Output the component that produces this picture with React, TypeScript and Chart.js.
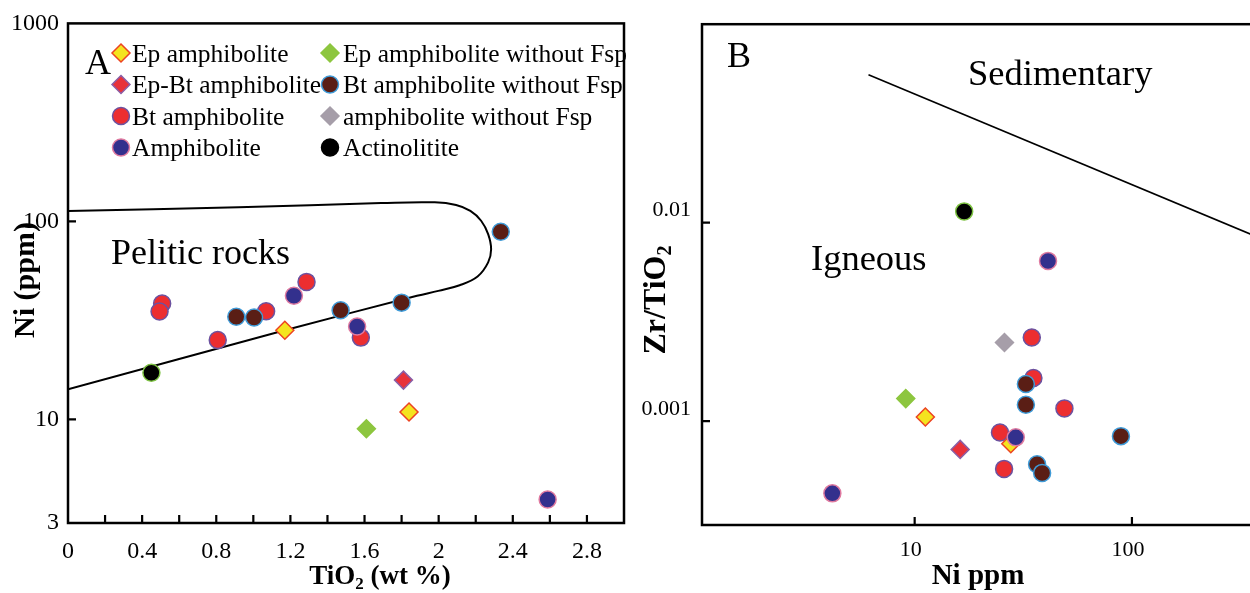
import React, { useEffect, useRef } from 'react';
import { Chart, registerables } from 'chart.js';

Chart.register(...registerables);

const FAMILY = "'Liberation Serif', 'Times New Roman', serif";

// ---------- Panel A : TiO2 (wt %) vs Ni (ppm) ----------
const aEpAmphTiO2 = [1.17, 1.84];
const aEpAmphNi = [28.2, 10.9];
const aEpAmphNoFspTiO2 = [1.61];
const aEpAmphNoFspNi = [8.97];
const aEpBtAmphTiO2 = [1.81];
const aEpBtAmphNi = [15.8];
const aBtAmphTiO2 = [0.508, 0.494, 0.808, 1.069, 1.287, 1.58];
const aBtAmphNi = [38.5, 35.1, 25.2, 35.2, 49.5, 25.9];
const aBtAmphNoFspTiO2 = [0.908, 1.004, 1.471, 1.8, 2.335];
const aBtAmphNoFspNi = [33.0, 32.7, 35.6, 38.9, 88.7];
const aAmphTiO2 = [1.219, 1.56, 2.588];
const aAmphNi = [42.1, 29.5, 3.94];
const aActinoTiO2 = [0.45];
const aActinoNi = [17.2];

// Pelitic rocks field boundary
const pelTiO2 = [0, 0.92, 1.69, 1.979, 2.094, 2.171, 2.229, 2.267, 2.283, 2.267, 2.21, 2.113, 1.998, 1.883, 1.17, 0];
const pelNi = [113, 117.8, 123.8, 124.8, 121, 113, 100.8, 86.3, 72.4, 62.1, 52.7, 47.6, 44.6, 42.1, 28.2, 14.2];

const aXTickValues = [0, 0.4, 0.8, 1.2, 1.6, 2, 2.4, 2.8];
const aXTickLabels = ['0', '0.4', '0.8', '1.2', '1.6', '2', '2.4', '2.8'];
const aXMinorTicks = [0.2, 0.4, 0.6, 0.8, 1.0, 1.2, 1.4, 1.6, 1.8, 2.0, 2.2, 2.4, 2.6, 2.8];
const aYTickValues = [3, 10, 100, 1000];
const aYTickLabels = ['3', '10', '100', '1000'];
const aYMarkTicks = [10, 100];

// ---------- Panel B : Ni ppm vs Zr/TiO2 ----------
const bEpAmphNi = [11.2, 27.7];
const bEpAmphZrTi = [0.00105, 0.00077];
const bEpAmphNoFspNi = [9.1];
const bEpAmphNoFspZrTi = [0.0013];
const bEpBtAmphNi = [16.2];
const bEpBtAmphZrTi = [0.000721];
const bBtAmphNi = [34.6, 35.2, 48.9, 24.7, 25.8];
const bBtAmphZrTi = [0.00264, 0.00165, 0.00116, 0.000877, 0.000575];
const bBtAmphNoFspNi = [32.5, 32.5, 89, 36.6, 38.6];
const bBtAmphNoFspZrTi = [0.00154, 0.00121, 0.000841, 0.000607, 0.000549];
const bAmphNoFspNi = [25.9];
const bAmphNoFspZrTi = [0.00249];
const bAmphNi = [41.1, 29.2, 4.18];
const bAmphZrTi = [0.00642, 0.000829, 0.000433];
const bActinoNi = [16.9];
const bActinoZrTi = [0.0114];

// Igneous / Sedimentary boundary
const sedNi = [6.13, 600];
const sedZrTi = [0.0556, 0.00686];

const bXTickValues = [10, 100];
const bXTickLabels = ['10', '100'];
const bYTickValues = [0.001, 0.01];
const bYTickLabels = ['0.001', '0.01'];

// ---------- categories ----------
type Style = { label: string; shape: 'circle' | 'rectRot'; bg: string; border: string; legendBorder: string };
const STY: Record<string, Style> = {
  epAmph: { label: 'Ep amphibolite', shape: 'rectRot', bg: '#f4e41f', border: '#ec4322', legendBorder: '#ec4322' },
  epAmphNoFsp: { label: 'Ep amphibolite without Fsp', shape: 'rectRot', bg: '#8dc63f', border: '#8dc63f', legendBorder: '#8dc63f' },
  epBtAmph: { label: 'Ep-Bt amphibolite', shape: 'rectRot', bg: '#e8323a', border: '#8a5ea6', legendBorder: '#8a5ea6' },
  btAmphNoFsp: { label: 'Bt amphibolite without Fsp', shape: 'circle', bg: '#5a1e15', border: '#3f9bd8', legendBorder: '#3f9bd8' },
  btAmph: { label: 'Bt amphibolite', shape: 'circle', bg: '#ec2e30', border: '#6c52a0', legendBorder: '#6c52a0' },
  amphNoFsp: { label: 'amphibolite without Fsp', shape: 'rectRot', bg: '#a69ea9', border: '#a69ea9', legendBorder: '#a69ea9' },
  amph: { label: 'Amphibolite', shape: 'circle', bg: '#33308d', border: '#df7aa0', legendBorder: '#df7aa0' },
  actino: { label: 'Actinolitite', shape: 'circle', bg: '#000000', border: '#7dc242', legendBorder: '#000000' },
};
const DRAW_ORDER: Record<string, number> = { amph: 1, btAmphNoFsp: 2, epAmph: 3, btAmph: 4, epBtAmph: 5, epAmphNoFsp: 6, amphNoFsp: 7, actino: 8 };

const legendColumns = [
  ['epAmph', 'epBtAmph', 'btAmph', 'amph'],
  ['epAmphNoFsp', 'btAmphNoFsp', 'amphNoFsp', 'actino'],
];

function pts(xs: number[], ys: number[]) {
  return xs.map((x, i) => ({ x, y: ys[i] }));
}

function pointSet(key: string, xs: number[], ys: number[]) {
  const s = STY[key];
  return {
    label: s.label,
    data: pts(xs, ys),
    pointStyle: s.shape,
    pointRadius: s.shape === 'circle' ? 8.5 : 9,
    pointBackgroundColor: s.bg,
    pointBorderColor: s.border,
    pointBorderWidth: 1.5,
    backgroundColor: s.bg,
    borderColor: s.border,
    showLine: false,
    order: DRAW_ORDER[key],
  };
}

type Seg = { t: string; sub?: boolean };
type TextItem = { segs: Seg[]; x: number; y: number; size: number; bold?: boolean; center?: boolean; rotate?: boolean };

function drawText(ctx: CanvasRenderingContext2D, l: TextItem) {
  ctx.save();
  ctx.translate(l.x, l.y);
  if (l.rotate) ctx.rotate(-Math.PI / 2);
  const w = l.bold ? 'bold ' : '';
  const mainFont = `${w}${l.size}px ${FAMILY}`;
  const subFont = `${w}${Math.round(l.size * 0.62)}px ${FAMILY}`;
  let total = 0;
  for (const s of l.segs) {
    ctx.font = s.sub ? subFont : mainFont;
    total += ctx.measureText(s.t).width;
  }
  let cx = l.center ? -total / 2 : 0;
  ctx.fillStyle = '#000';
  ctx.textAlign = 'left';
  ctx.textBaseline = 'alphabetic';
  for (const s of l.segs) {
    ctx.font = s.sub ? subFont : mainFont;
    ctx.fillText(s.t, cx, s.sub ? l.size * 0.2 : 0);
    cx += ctx.measureText(s.t).width;
  }
  ctx.restore();
}

function drawMarker(ctx: CanvasRenderingContext2D, s: Style, x: number, y: number) {
  ctx.save();
  ctx.fillStyle = s.bg;
  ctx.strokeStyle = s.legendBorder;
  ctx.lineWidth = 1.5;
  ctx.beginPath();
  if (s.shape === 'circle') {
    ctx.arc(x, y, 8.5, 0, Math.PI * 2);
  } else {
    const r = 9;
    ctx.moveTo(x, y - r);
    ctx.lineTo(x + r, y);
    ctx.lineTo(x, y + r);
    ctx.lineTo(x - r, y);
    ctx.closePath();
  }
  ctx.fill();
  ctx.stroke();
  ctx.restore();
}

function framePlugin(cfg: { xMarks: number[]; yMarks: number[]; texts: TextItem[]; legend?: boolean }) {
  return {
    id: 'frameAndText',
    afterDatasetsDraw(chart: any) {
      const { ctx, chartArea: a, scales } = chart;
      ctx.save();
      ctx.strokeStyle = '#000';
      ctx.lineWidth = 2.2;
      ctx.beginPath();
      for (const v of cfg.xMarks) {
        const px = scales.x.getPixelForValue(v);
        ctx.moveTo(px, a.bottom);
        ctx.lineTo(px, a.bottom - 8);
      }
      for (const v of cfg.yMarks) {
        const py = scales.y.getPixelForValue(v);
        ctx.moveTo(a.left, py);
        ctx.lineTo(a.left + 8, py);
      }
      ctx.stroke();
      ctx.lineWidth = 2.5;
      ctx.strokeRect(a.left, a.top, a.right - a.left, a.bottom - a.top);
      ctx.restore();

      if (cfg.legend) {
        const colMarkerX = [121, 330];
        const colTextX = [132, 343];
        const rowY = [53, 84.5, 116, 147.5];
        legendColumns.forEach((col, ci) => {
          col.forEach((key, ri) => {
            const s = STY[key];
            drawMarker(ctx, s, colMarkerX[ci], rowY[ri]);
            ctx.save();
            ctx.fillStyle = '#000';
            ctx.font = `25.5px ${FAMILY}`;
            ctx.textBaseline = 'alphabetic';
            ctx.textAlign = 'left';
            ctx.fillText(s.label, colTextX[ci], rowY[ri] + 8.5);
            ctx.restore();
          });
        });
      }
      for (const t of cfg.texts) drawText(ctx, t);
    },
  };
}

export default function App() {
  const refA = useRef<HTMLCanvasElement>(null);
  const refB = useRef<HTMLCanvasElement>(null);

  useEffect(() => {
    const tickFont = (size: number) => ({ family: FAMILY, size });

    const chartA = new Chart(refA.current as HTMLCanvasElement, {
      type: 'scatter',
      data: {
        datasets: [
          pointSet('amph', aAmphTiO2, aAmphNi),
          pointSet('btAmphNoFsp', aBtAmphNoFspTiO2, aBtAmphNoFspNi),
          pointSet('epAmph', aEpAmphTiO2, aEpAmphNi),
          pointSet('btAmph', aBtAmphTiO2, aBtAmphNi),
          pointSet('epBtAmph', aEpBtAmphTiO2, aEpBtAmphNi),
          pointSet('epAmphNoFsp', aEpAmphNoFspTiO2, aEpAmphNoFspNi),
          pointSet('actino', aActinoTiO2, aActinoNi),
          {
            label: 'Pelitic rocks boundary',
            data: pts(pelTiO2, pelNi),
            showLine: true,
            borderColor: '#000',
            borderWidth: 2,
            pointRadius: 0,
            tension: 0.4,
            fill: false,
            order: 20,
          } as any,
        ],
      },
      options: {
        responsive: false,
        animation: false,
        events: [],
        layout: { padding: { top: 22, right: 16, left: 0, bottom: 0 } },
        plugins: { legend: { display: false }, tooltip: { enabled: false } },
        scales: {
          x: {
            type: 'linear',
            min: 0,
            max: 3,
            grid: { display: false, drawTicks: false },
            border: { display: false },
            afterBuildTicks: (s: any) => {
              s.ticks = aXTickValues.map((v) => ({ value: v }));
            },
            afterFit: (s: any) => {
              s.height = 70;
            },
            ticks: {
              autoSkip: false,
              maxRotation: 0,
              minRotation: 0,
              padding: 14,
              color: '#000',
              font: tickFont(24),
              callback: (_v: any, i: number) => aXTickLabels[i],
            },
          },
          y: {
            type: 'logarithmic',
            min: 3,
            max: 1000,
            grid: { display: false, drawTicks: false },
            border: { display: false },
            afterBuildTicks: (s: any) => {
              s.ticks = aYTickValues.map((v) => ({ value: v }));
            },
            afterFit: (s: any) => {
              s.width = 68;
            },
            ticks: {
              autoSkip: false,
              padding: 9,
              color: '#000',
              font: tickFont(24),
              callback: (_v: any, i: number) => aYTickLabels[i],
            },
          },
        },
      } as any,
      plugins: [
        framePlugin({
          xMarks: aXMinorTicks,
          yMarks: aYMarkTicks,
          legend: true,
          texts: [
            { segs: [{ t: 'A' }], x: 85, y: 74, size: 36 },
            { segs: [{ t: 'Pelitic rocks' }], x: 111, y: 264, size: 36 },
            { segs: [{ t: 'TiO' }, { t: '2', sub: true }, { t: ' (wt %)' }], x: 380, y: 584, size: 27, bold: true, center: true },
            { segs: [{ t: 'Ni (ppm)' }], x: 34, y: 280, size: 30, bold: true, center: true, rotate: true },
          ],
        }) as any,
      ],
    });

    const chartB = new Chart(refB.current as HTMLCanvasElement, {
      type: 'scatter',
      data: {
        datasets: [
          pointSet('amph', bAmphNi, bAmphZrTi),
          pointSet('btAmphNoFsp', bBtAmphNoFspNi, bBtAmphNoFspZrTi),
          pointSet('epAmph', bEpAmphNi, bEpAmphZrTi),
          pointSet('btAmph', bBtAmphNi, bBtAmphZrTi),
          pointSet('epBtAmph', bEpBtAmphNi, bEpBtAmphZrTi),
          pointSet('epAmphNoFsp', bEpAmphNoFspNi, bEpAmphNoFspZrTi),
          pointSet('amphNoFsp', bAmphNoFspNi, bAmphNoFspZrTi),
          pointSet('actino', bActinoNi, bActinoZrTi),
          {
            label: 'Igneous / Sedimentary boundary',
            data: pts(sedNi, sedZrTi),
            showLine: true,
            borderColor: '#000',
            borderWidth: 1.6,
            pointRadius: 0,
            tension: 0,
            fill: false,
            order: 20,
          } as any,
        ],
      },
      options: {
        responsive: false,
        animation: false,
        events: [],
        layout: { padding: { top: 22, right: 39, left: 0, bottom: 0 } },
        plugins: { legend: { display: false }, tooltip: { enabled: false } },
        scales: {
          x: {
            type: 'logarithmic',
            min: 1.05,
            max: 600,
            grid: { display: false, drawTicks: false },
            border: { display: false },
            afterBuildTicks: (s: any) => {
              s.ticks = bXTickValues.map((v) => ({ value: v }));
            },
            afterFit: (s: any) => {
              s.height = 68;
            },
            ticks: {
              autoSkip: false,
              maxRotation: 0,
              minRotation: 0,
              padding: 12,
              labelOffset: -4,
              color: '#000',
              font: tickFont(22),
              callback: (_v: any, i: number) => bXTickLabels[i],
            },
          },
          y: {
            type: 'logarithmic',
            min: 0.00031,
            max: 0.1,
            grid: { display: false, drawTicks: false },
            border: { display: false },
            afterBuildTicks: (s: any) => {
              s.ticks = bYTickValues.map((v) => ({ value: v }));
            },
            afterFit: (s: any) => {
              s.width = 62;
            },
            ticks: {
              autoSkip: false,
              padding: 11,
              labelOffset: -12,
              color: '#000',
              font: tickFont(22),
              callback: (_v: any, i: number) => bYTickLabels[i],
            },
          },
        },
      } as any,
      plugins: [
        framePlugin({
          xMarks: bXTickValues,
          yMarks: bYTickValues,
          texts: [
            { segs: [{ t: 'B' }], x: 87, y: 67, size: 36 },
            { segs: [{ t: 'Sedimentary' }], x: 328, y: 85, size: 36.5 },
            { segs: [{ t: 'Igneous' }], x: 171, y: 270, size: 36.5 },
            { segs: [{ t: 'Ni ppm' }], x: 338, y: 584, size: 29, bold: true, center: true },
            { segs: [{ t: 'Zr/TiO' }, { t: '2', sub: true }], x: 25, y: 300, size: 32, bold: true, center: true, rotate: true },
          ],
        }) as any,
      ],
    });

    return () => {
      chartA.destroy();
      chartB.destroy();
    };
  }, []);

  return (
    <div
      style={{
        position: 'absolute',
        left: 0,
        top: 0,
        width: 1250,
        height: 593,
        overflow: 'hidden',
        background: '#fff',
      }}
    >
      <canvas ref={refA} width={640} height={593} style={{ position: 'absolute', left: 0, top: 0 }} />
      <canvas ref={refB} width={700} height={593} style={{ position: 'absolute', left: 640, top: 0 }} />
    </div>
  );
}
